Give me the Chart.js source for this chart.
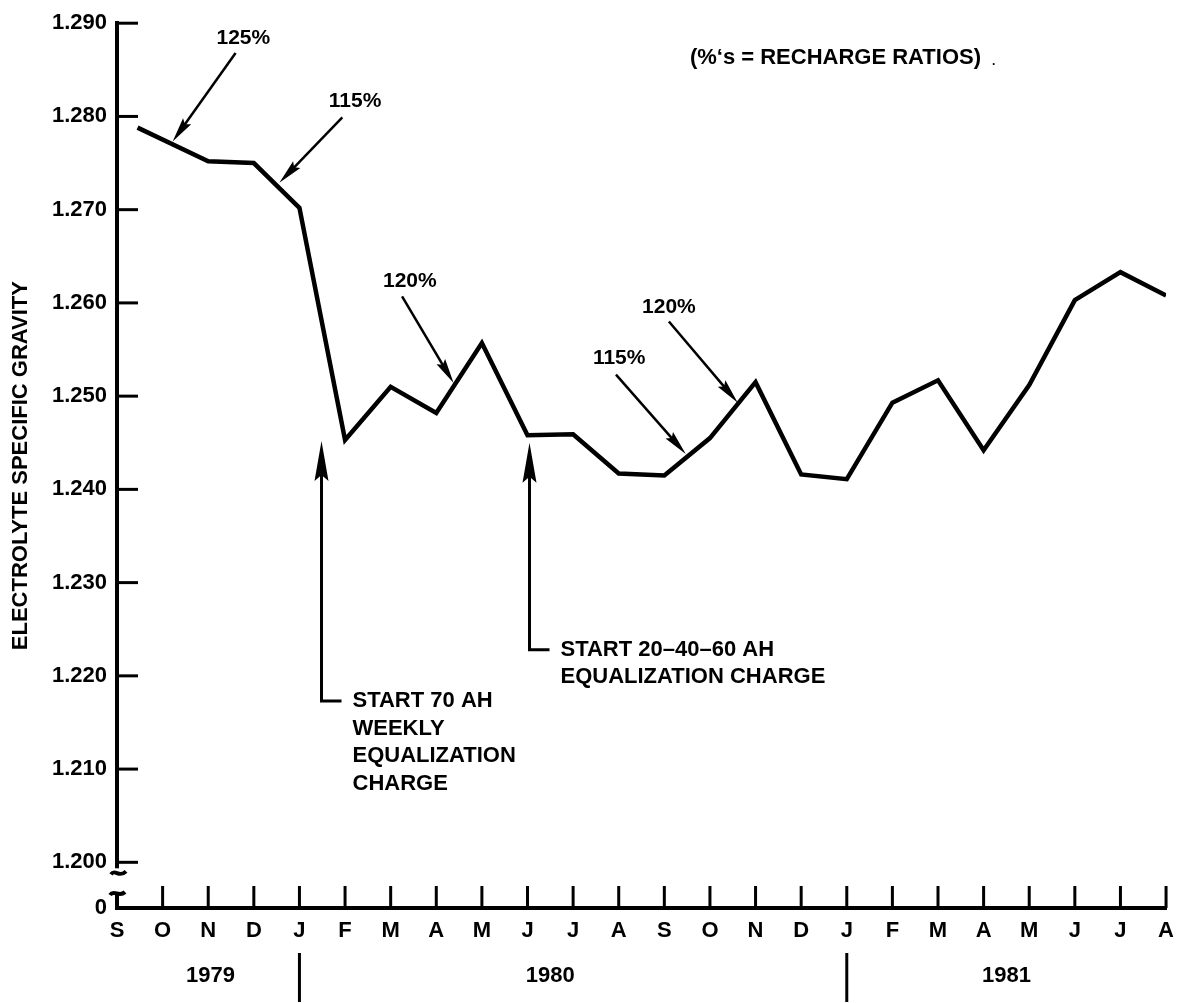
<!DOCTYPE html>
<html lang="en">
<head>
<meta charset="UTF-8">
<title>Electrolyte Specific Gravity</title>
<script src="https://cdn.jsdelivr.net/npm/chart.js"></script>
<style>
  body { margin: 0; background: #fff; }
  #wrap { width: 1184px; height: 1003px; }
</style>
</head>
<body>
<div id="wrap"><canvas id="chart" width="1184" height="1003"></canvas></div>
<script>
// month ticks, Sep 1979 .. Aug 1981
const months = ['S','O','N','D','J','F','M','A','M','J','J','A','S','O','N','D','J','F','M','A','M','J','J','A'];
const years = ['1979', '1980', '1981'];
const yearCenters = [2.05, 9.5, 19.5];
const yearBreaks = [4, 16];

// readings (month index, specific gravity)
const readingMonth = [0.45, 2, 3, 4, 5, 6, 7, 8, 9, 10, 11, 12, 13, 14, 15, 16, 17, 18, 19, 20, 21, 22, 23];
const gravity = [1.2788, 1.2752, 1.2750, 1.2702, 1.2453, 1.2510, 1.2482, 1.2557, 1.2458, 1.2459, 1.2417, 1.2415,
                 1.2455, 1.2515, 1.2416, 1.2411, 1.2493, 1.2517, 1.2442, 1.2512, 1.2603, 1.2633, 1.2608];

const yTicks = [1.200, 1.210, 1.220, 1.230, 1.240, 1.250, 1.260, 1.270, 1.280, 1.290];
const yTickLabels = ['1.200', '1.210', '1.220', '1.230', '1.240', '1.250', '1.260', '1.270', '1.280', '1.290'];
const yZero = 1.1951;   // broken axis: bottom is labelled 0

// recharge ratio callouts (month index, gravity)
const ratioLabels = ['125%', '115%', '120%', '115%', '120%'];
const ratioText = [[2.77, 1.2884], [5.22, 1.2816], [6.42, 1.2623], [11.01, 1.2541], [12.10, 1.2595]];
const ratioFrom = [[2.60, 1.2868], [4.94, 1.2799], [6.25, 1.2607], [10.94, 1.2523], [12.10, 1.2580]];
const ratioTo = [[1.22, 1.2773], [3.56, 1.2729], [7.38, 1.2514], [12.47, 1.2438], [13.61, 1.2493]];

const noteAt = [4.48, 9.04];
const noteTip = [1.2452, 1.2450];
const noteFoot = [1.2173, 1.2228];
const noteLines = [['START 70 AH', 'WEEKLY', 'EQUALIZATION', 'CHARGE'], ['START 20\u201340\u201360 AH', 'EQUALIZATION CHARGE']];

const headerText = '(%\u2018s = RECHARGE RATIOS)';
const headerAt = [12.56, 1.2863];

const FONT = '"Liberation Sans", Arial, sans-serif';

function arrowHead(ctx, x1, y1, x2, y2, len, half) {
    const a = Math.atan2(y2 - y1, x2 - x1);
    const c = Math.cos(a), s = Math.sin(a);
    ctx.beginPath();
    ctx.moveTo(x2, y2);
    ctx.lineTo(x2 - c * len + s * half, y2 - s * len - c * half);
    ctx.lineTo(x2 - c * len * 0.85, y2 - s * len * 0.85);
    ctx.lineTo(x2 - c * len - s * half, y2 - s * len + c * half);
    ctx.closePath();
    ctx.fill();
}

function arrow(ctx, x1, y1, x2, y2, len, half, lw) {
    const a = Math.atan2(y2 - y1, x2 - x1);
    ctx.lineWidth = lw;
    ctx.beginPath();
    ctx.moveTo(x1, y1);
    ctx.lineTo(x2 - Math.cos(a) * len * 0.7, y2 - Math.sin(a) * len * 0.7);
    ctx.stroke();
    arrowHead(ctx, x1, y1, x2, y2, len, half);
}

const decor = {
    id: 'decor',
    afterDraw(chart) {
        const ctx = chart.ctx;
        const xs = chart.scales.x, ys = chart.scales.y;
        const area = chart.chartArea;
        ctx.save();
        ctx.strokeStyle = '#000';
        ctx.fillStyle = '#000';
        ctx.lineCap = 'butt';

        // inward tick marks
        ctx.lineWidth = 3;
        yTicks.forEach(v => {
            const y = ys.getPixelForValue(v);
            ctx.beginPath(); ctx.moveTo(area.left, y); ctx.lineTo(area.left + 21, y); ctx.stroke();
        });
        months.forEach((m, i) => {
            if (i === 0) return;
            const x = xs.getPixelForValue(i);
            ctx.beginPath(); ctx.moveTo(x, area.bottom); ctx.lineTo(x, area.bottom - 22); ctx.stroke();
        });

        // axis break between 1.200 and 0
        const yb = ys.getPixelForValue(1.200);
        const top = yb + 6, bot = area.bottom - 10;
        ctx.fillStyle = '#fff';
        ctx.fillRect(area.left - 8, top, 16, bot - top);
        ctx.fillStyle = '#000';
        ctx.lineWidth = 4;
        ctx.beginPath();
        ctx.moveTo(area.left - 6, top + 6);
        ctx.bezierCurveTo(area.left - 2, top, area.left + 2, top + 10, area.left + 9, top + 3);
        ctx.stroke();
        ctx.beginPath();
        ctx.moveTo(area.left - 7, bot - 3);
        ctx.bezierCurveTo(area.left - 3, bot - 9, area.left + 2, bot, area.left + 8, bot - 6);
        ctx.stroke();
        ctx.beginPath(); ctx.moveTo(area.left, bot - 4); ctx.lineTo(area.left, area.bottom); ctx.stroke();

        // years below the months
        ctx.font = 'bold 22px ' + FONT;
        ctx.textAlign = 'center';
        ctx.textBaseline = 'middle';
        years.forEach((t, i) => ctx.fillText(t, xs.getPixelForValue(yearCenters[i]), 976));
        ctx.lineWidth = 3;
        yearBreaks.forEach(v => {
            const x = xs.getPixelForValue(v);
            ctx.beginPath(); ctx.moveTo(x, 953); ctx.lineTo(x, 1002); ctx.stroke();
        });

        // recharge ratio callouts
        ctx.font = 'bold 21px ' + FONT;
        ratioLabels.forEach((t, i) => {
            ctx.fillText(t, xs.getPixelForValue(ratioText[i][0]), ys.getPixelForValue(ratioText[i][1]));
            arrow(ctx, xs.getPixelForValue(ratioFrom[i][0]), ys.getPixelForValue(ratioFrom[i][1]),
                  xs.getPixelForValue(ratioTo[i][0]), ys.getPixelForValue(ratioTo[i][1]), 25, 5, 2.5);
        });

        // equalization notes
        ctx.font = 'bold 22px ' + FONT;
        ctx.textAlign = 'left';
        noteAt.forEach((v, i) => {
            const x = Math.round(xs.getPixelForValue(v)) + 0.5;
            const yf = ys.getPixelForValue(noteFoot[i]);
            const yt = ys.getPixelForValue(noteTip[i]);
            ctx.lineWidth = 3;
            ctx.beginPath(); ctx.moveTo(x + 20, yf); ctx.lineTo(x, yf); ctx.lineTo(x, yt + 30); ctx.stroke();
            arrowHead(ctx, x, yf, x, yt, 40, 7);
            noteLines[i].forEach((t, k) => ctx.fillText(t, x + 31, yf + k * 27.5));
        });

        ctx.font = 'bold 22px ' + FONT;
        ctx.fillText(headerText, xs.getPixelForValue(headerAt[0]), ys.getPixelForValue(headerAt[1]));
        ctx.font = 'bold 12px ' + FONT;
        ctx.fillText('.', xs.getPixelForValue(headerAt[0]) + 302, ys.getPixelForValue(headerAt[1]) + 4);
        ctx.restore();
    }
};

new Chart(document.getElementById('chart'), {
    type: 'line',
    data: {
        datasets: [{
            data: readingMonth.map((m, i) => ({ x: m, y: gravity[i] })),
            borderColor: '#000',
            borderWidth: 4.5,
            borderJoinStyle: 'miter',
            pointRadius: 0,
            tension: 0,
            fill: false
        }]
    },
    options: {
        responsive: false,
        animation: false,
        layout: { autoPadding: false, padding: { top: 18, right: 14, bottom: 0, left: 0 } },
        plugins: { legend: { display: false }, tooltip: { enabled: false } },
        scales: {
            x: {
                type: 'linear',
                min: 0,
                max: months.length - 1,
                afterFit: s => { s.height = 95; },
                afterBuildTicks: s => { s.ticks = months.map((m, i) => ({ value: i })); },
                grid: { display: false, drawTicks: false },
                border: { display: true, color: '#000', width: 4 },
                ticks: {
                    autoSkip: false, maxRotation: 0, padding: 10, color: '#000',
                    font: { family: FONT, size: 22, weight: 'bold' },
                    callback: v => months[v]
                }
            },
            y: {
                min: yZero,
                max: 1.290,
                afterFit: s => { s.width = 117; },
                afterBuildTicks: s => { s.ticks = [yZero].concat(yTicks).map(v => ({ value: v })); },
                grid: { display: false, drawTicks: false },
                border: { display: true, color: '#000', width: 4 },
                ticks: {
                    padding: 10, color: '#000',
                    font: { family: FONT, size: 22, weight: 'bold' },
                    callback: (v, i) => i === 0 ? '0' : yTickLabels[i - 1]
                },
                title: {
                    display: true, text: 'ELECTROLYTE SPECIFIC GRAVITY', color: '#000',
                    font: { family: FONT, size: 22, weight: 'bold' },
                    padding: { top: 8, bottom: 0 }
                }
            }
        }
    },
    plugins: [decor]
});
</script>
</body>
</html>
